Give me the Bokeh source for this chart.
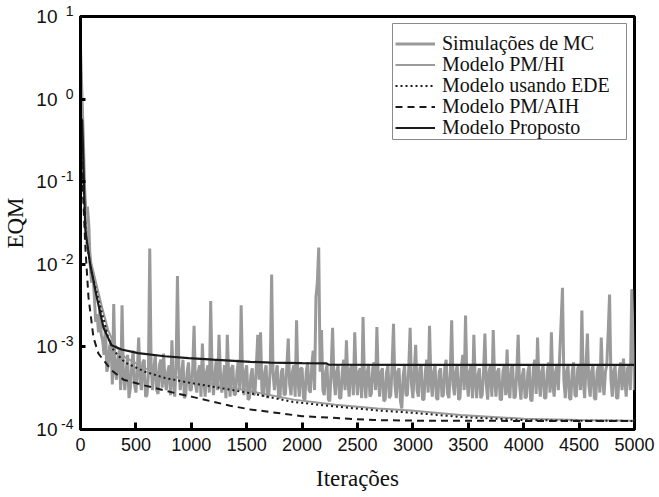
from bokeh.plotting import figure
from bokeh.models import (FixedTicker, Legend, LegendItem, Range1d, LogAxis,
                          BoxAnnotation)
from bokeh.embed import file_html
from bokeh.resources import INLINE

# ---------------- data ----------------
legend_labels = ["Simulações de MC", "Modelo PM/HI", "Modelo usando EDE",
                 "Modelo PM/AIH", "Modelo Proposto"]

x_ticks = [0, 500, 1000, 1500, 2000, 2500, 3000, 3500, 4000, 4500, 5000]
y_ticks = [1e-4, 1e-3, 1e-2, 1e-1, 1e0, 1e1]
y_tick_base = "10"
y_tick_exponents = ["-4", "-3", "-2", "-1", "0", "1"]
x_title = "Iterações"
y_title = "EQM"

# Monte Carlo simulation (one value every 12.5 iterations)
mc_eqm = [
    4.0, 1.2, 0.35, 0.08, 0.04, 0.05, 0.03, 0.01, 6e-3, 8e-3, 4e-3, 2e-3, 2.5e-3, 1.5e-3, 3e-3, 1.4e-3,
    1.2e-3, 8e-4, 1.8e-3, 5e-4, 6e-4, 1e-3, 1.2e-3, 3.5e-4, 3.3e-3, 5e-4, 4e-4, 7e-4, 9e-4, 3e-4, 3.2e-3, 4.5e-4,
    3e-4, 5e-4, 8e-4, 2.4e-4, 3.2e-4, 6e-4, 9e-4, 3.5e-4, 2.8e-4, 5e-4, 1.3e-3, 4e-4, 3e-4, 6.5e-4, 7e-4, 2.5e-4,
    2.6e-4, 4.5e-4, 1.55e-2, 6e-4, 3e-4, 5.5e-4, 8e-4, 3e-4, 2.7e-4, 6e-4, 7e-4, 3.2e-4, 8.3e-4, 4e-4, 3e-4, 5e-4,
    6e-4, 2.6e-4, 1.2e-3, 4e-4, 2.5e-4, 5.5e-4, 7.2e-3, 6e-4, 3e-4, 4.5e-4, 7e-4, 2.4e-4, 2.6e-4, 5e-4, 6.5e-4, 3e-4,
    3e-4, 5.5e-4, 1.8e-3, 3.5e-4, 2.8e-4, 5e-4, 6e-4, 2.5e-4, 1.1e-3, 4e-4, 2.5e-4, 5e-4, 6e-4, 2.8e-4, 3.6e-3, 5e-4,
    2.6e-4, 4.5e-4, 7e-4, 3e-4, 1.4e-3, 5e-4, 2.8e-4, 4e-4, 6e-4, 2.4e-4, 1.4e-3, 4.5e-4, 2.5e-4, 5.5e-4, 6e-4, 2.6e-4,
    2.7e-4, 5e-4, 7e-4, 3e-4, 3.2e-3, 4.5e-4, 2.6e-4, 5e-4, 6e-4, 2.3e-4, 2.4e-4, 4.5e-4, 5.5e-4, 2.6e-4, 2.8e-4, 6e-4,
    1.4e-3, 4e-4, 1.5e-3, 3e-4, 2.5e-4, 5e-4, 6e-4, 2.4e-4, 2.7e-4, 5.5e-4, 7.5e-3, 5e-4, 3e-4, 4.5e-4, 6e-4, 2.5e-4,
    2.4e-4, 5e-4, 5.5e-4, 2.6e-4, 2.7e-4, 6e-4, 1.26e-3, 3.5e-4, 2.6e-4, 5e-4, 6e-4, 2.5e-4, 2.1e-3, 4e-4, 2.5e-4, 5.5e-4,
    5.5e-4, 2.4e-4, 2.3e-4, 5e-4, 6.5e-4, 3e-4, 2.8e-4, 6e-4, 9e-4, 3e-4, 4e-3, 6e-3, 1.6e-2, 5e-4, 1.6e-3, 3e-4,
    2.6e-4, 5e-4, 6e-4, 2.3e-4, 2.2e-4, 5.5e-4, 1.7e-3, 4e-4, 2.6e-4, 5e-4, 6e-4, 2.4e-4, 2.4e-4, 5e-4, 7e-4, 3e-4,
    1.2e-3, 4e-4, 2.5e-4, 5.5e-4, 6e-4, 2.6e-4, 1.5e-3, 4.5e-4, 2.6e-4, 5e-4, 5.5e-4, 2.4e-4, 2.3e-3, 4e-4, 2.4e-4, 5e-4,
    6e-4, 2.5e-4, 2.7e-4, 5.5e-4, 6.5e-4, 3e-4, 1.74e-3, 4e-4, 2.5e-4, 5e-4, 5.5e-4, 2.2e-4, 2.3e-4, 5e-4, 6e-4, 2.4e-4,
    2.6e-4, 6e-4, 1.9e-3, 3.5e-4, 2.4e-4, 5e-4, 5.5e-4, 2.2e-4, 1.8e-4, 4.5e-4, 6e-4, 2.6e-4, 2.6e-4, 5.5e-4, 1.7e-3, 3.5e-4,
    2.4e-4, 5e-4, 1.06e-3, 3e-4, 2.5e-4, 5.5e-4, 6e-4, 2.3e-4, 2.3e-4, 5e-4, 7e-4, 2.8e-4, 1.8e-3, 4e-4, 2.5e-4, 5e-4,
    6e-4, 2.4e-4, 2.3e-4, 5e-4, 5.5e-4, 2.5e-4, 2.6e-4, 5.5e-4, 7e-4, 2.7e-4, 2.4e-4, 5e-4, 2.1e-3, 3.5e-4, 2.6e-4, 5e-4,
    6e-4, 2.3e-4, 2.4e-4, 5.5e-4, 8e-4, 3e-4, 2.4e-3, 4e-4, 2.5e-4, 5e-4, 6e-4, 2.4e-4, 1.4e-3, 4e-4, 2.4e-4, 4.5e-4,
    5.5e-4, 2.4e-4, 2.6e-4, 5e-4, 1.45e-3, 3.5e-4, 2.3e-4, 5e-4, 6e-4, 2.5e-4, 1.6e-3, 4e-4, 2.5e-4, 5e-4, 5.5e-4, 2.3e-4,
    2.3e-4, 5e-4, 6e-4, 2.6e-4, 9.3e-4, 3e-4, 2.4e-4, 5.5e-4, 6e-4, 2.4e-4, 2.5e-4, 5e-4, 1.4e-3, 3.5e-4, 2.3e-4, 4.5e-4,
    5.5e-4, 2.4e-4, 2.5e-4, 5e-4, 6e-4, 2.3e-4, 2.2e-4, 5.5e-4, 7e-4, 2.7e-4, 1.3e-3, 4e-4, 2.5e-4, 5e-4, 6e-4, 2.4e-4,
    2.4e-4, 5e-4, 6.5e-4, 2.8e-4, 1.5e-3, 3.5e-4, 2.5e-4, 5e-4, 6e-4, 3e-4, 8e-4, 2e-3, 5.2e-3, 4e-4, 2.4e-4, 5e-4,
    6e-4, 2.4e-4, 2.3e-4, 5e-4, 6.5e-4, 2.6e-4, 2.5e-4, 5.5e-4, 6e-4, 3e-4, 2.75e-3, 4e-4, 2.4e-4, 6e-4, 1.45e-3, 3.5e-4,
    2.5e-4, 5e-4, 6e-4, 2.4e-4, 2.3e-4, 5e-4, 6e-4, 2.8e-4, 1.3e-3, 4e-4, 2.6e-4, 5e-4, 6e-4, 1.5e-3, 4.3e-3, 4e-4,
    2.5e-4, 5e-4, 6e-4, 2.4e-4, 2.4e-4, 5e-4, 6.5e-4, 3e-4, 7.2e-4, 4e-4, 2.5e-4, 5.5e-4, 6e-4, 3e-4, 5e-3, 1.2e-3,
    3e-4,
]
mc_iter = [k * 12.5 for k in range(len(mc_eqm))]

# Modelo PM/HI
pmhi_iter = [0, 15, 30, 50, 100, 190, 250, 300, 400, 583, 764, 975, 1250,
             1534, 1925, 2300, 2680, 2980, 3430, 4000, 4500, 5000]
pmhi_eqm = [0.5, 0.3, 0.1, 0.03, 1e-2, 3.2e-3, 1.6e-3, 1.1e-3, 7.5e-4, 5.5e-4,
            4.6e-4, 4e-4, 3.4e-4, 2.9e-4, 2.3e-4, 2e-4, 1.8e-4, 1.7e-4,
            1.5e-4, 1.35e-4, 1.3e-4, 1.28e-4]

# Modelo usando EDE
ede_iter = [0, 15, 30, 50, 100, 190, 250, 300, 400, 583, 764, 975, 1250,
            1534, 1925, 2300, 2680, 2980, 3430, 4000, 4500, 5000]
ede_eqm = [0.3, 0.2, 0.07, 0.02, 8e-3, 2.7e-3, 1.3e-3, 9e-4, 6.5e-4, 5e-4,
           4.2e-4, 3.7e-4, 3.2e-4, 2.75e-4, 2.15e-4, 1.9e-4, 1.7e-4, 1.6e-4,
           1.42e-4, 1.3e-4, 1.28e-4, 1.27e-4]

# Modelo PM/AIH
aih_iter = [0, 10, 25, 45, 72, 117, 162, 280, 390, 583, 884, 1000, 1350,
            1534, 2000, 2645, 3039, 4000, 5000]
aih_eqm = [0.25, 0.18, 0.06, 0.015, 4e-3, 1.3e-3, 8.3e-4, 5.2e-4, 4e-4, 3.4e-4,
           2.7e-4, 2.5e-4, 1.94e-4, 1.75e-4, 1.45e-4, 1.3e-4, 1.28e-4,
           1.27e-4, 1.27e-4]

# Modelo Proposto
prop_iter = [0, 15, 25, 35, 45, 87, 147, 208, 280, 370, 520, 760, 975, 1200,
             1534, 1715, 2000, 2220, 2240, 3000, 4000, 5000]
prop_eqm = [0.6, 0.55, 0.2, 0.06, 0.025, 0.01, 4e-3, 1.7e-3, 1.05e-3, 9.3e-4,
            8.4e-4, 7.7e-4, 7.3e-4, 7e-4, 6.6e-4, 6.45e-4, 6.35e-4, 6.3e-4,
            6.1e-4, 6.07e-4, 6.07e-4, 6.07e-4]

# ---------------- figure ----------------
p = figure(width=659, height=497, y_axis_type="log",
           x_range=Range1d(0, 5000), y_range=Range1d(1e-4, 10),
           output_backend="svg", toolbar_location=None,
           min_border_left=80, min_border_right=25,
           min_border_top=16, min_border_bottom=68)

p.xgrid.visible = False
p.ygrid.visible = False
p.outline_line_color = "black"
p.outline_line_width = 3
p.background_fill_color = "white"
p.border_fill_color = "white"

r_mc = p.line(mc_iter, mc_eqm, line_color="#9a9a9a", line_width=3)
r_hi = p.line(pmhi_iter, pmhi_eqm, line_color="#9a9a9a", line_width=2)
r_ede = p.line(ede_iter, ede_eqm, line_color="#1a1a1a", line_width=2,
               line_dash="2 3")
r_aih = p.line(aih_iter, aih_eqm, line_color="#1a1a1a", line_width=2,
               line_dash="7 5")
r_prop = p.line(prop_iter, prop_eqm, line_color="#1a1a1a", line_width=2.2)

# x axis
p.xaxis.ticker = FixedTicker(ticks=x_ticks, minor_ticks=[])
p.xaxis.major_label_standoff = 8
p.xaxis.axis_label = x_title
p.xaxis.axis_label_standoff = 12

for ax in (p.xaxis, p.yaxis):
    ax.axis_line_color = "black"
    ax.axis_line_width = 3
    ax.major_tick_in = 7
    ax.major_tick_out = 0
    ax.major_tick_line_width = 3
    ax.major_tick_line_color = "black"
    ax.minor_tick_line_color = None
    ax.major_label_text_font = "Liberation Sans"
    ax.major_label_text_font_size = "18px"
    ax.major_label_text_color = "#111111"
    ax.axis_label_text_font = "Liberation Serif"
    ax.axis_label_text_font_size = "23px"
    ax.axis_label_text_font_style = "normal"
    ax.axis_label_text_color = "#111111"

# inner y axis: ticks + raised exponents
p.yaxis.ticker = FixedTicker(ticks=y_ticks, minor_ticks=[])
p.yaxis.major_tick_in = 5
p.yaxis.major_label_overrides = {t: e + "\n " for t, e in zip(y_ticks, y_tick_exponents)}
p.yaxis.major_label_text_font_size = "14px"
p.yaxis.major_label_text_line_height = 0.7
p.yaxis.major_label_standoff = 7

# outer y axis: the "10" bases and the title
base_axis = LogAxis(ticker=FixedTicker(ticks=y_ticks, minor_ticks=[]),
                    major_label_overrides={t: y_tick_base for t in y_ticks},
                    axis_line_color=None, major_tick_line_color=None,
                    minor_tick_line_color=None,
                    major_tick_in=0, major_tick_out=0,
                    major_label_standoff=1,
                    major_label_text_font="Liberation Sans",
                    major_label_text_font_size="19px",
                    major_label_text_color="#111111",
                    axis_label=y_title, axis_label_standoff=5,
                    axis_label_text_font="Liberation Serif",
                    axis_label_text_font_size="23px",
                    axis_label_text_font_style="normal",
                    axis_label_text_color="#111111")
p.add_layout(base_axis, "left")

# legend frame
legend_box = BoxAnnotation(left=312, right=546, bottom=290, top=406,
                           left_units="screen", right_units="screen",
                           bottom_units="screen", top_units="screen",
                           fill_color="white", fill_alpha=1,
                           line_color="#8a8a8a", line_width=1,
                           line_alpha=1, level="annotation")
p.add_layout(legend_box)

# one legend row per entry so that the row pitch matches
row_renderers = [r_mc, r_hi, r_ede, r_aih, r_prop]
row_bottoms = [374, 353, 332, 311, 290]
for lab, rend, yb in zip(legend_labels, row_renderers, row_bottoms):
    lg = Legend(items=[LegendItem(label=lab, renderers=[rend])],
                location=(315, yb),
                border_line_color=None, background_fill_alpha=0,
                padding=0, margin=0, spacing=0,
                glyph_width=40, glyph_height=19, label_height=19,
                label_standoff=7,
                label_text_font="Liberation Serif",
                label_text_font_size="20px",
                label_text_color="#111111")
    p.add_layout(lg)

open("out.html", "w").write(file_html(p, INLINE))
